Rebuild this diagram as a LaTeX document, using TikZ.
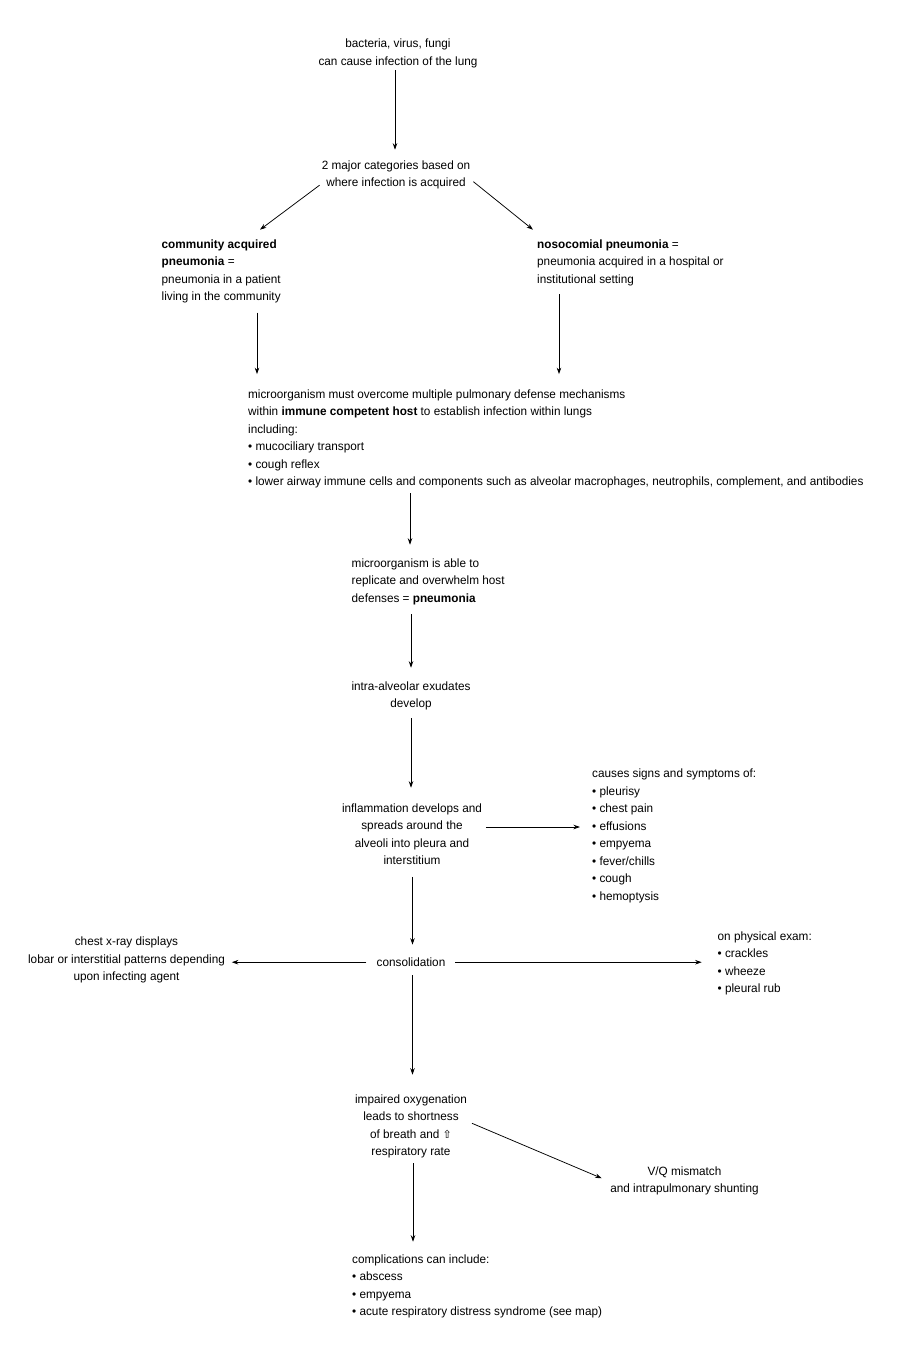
\documentclass[tikz,border=0pt]{standalone}
\usepackage{fontspec}
\setmainfont[FakeStretch=0.98]{Liberation Sans}
\newfontfamily\symf{DejaVu Sans}
\usetikzlibrary{arrows.meta}
\begin{document}
\begin{tikzpicture}[x=1pt,y=-1pt,
  every node/.style={inner sep=0pt, font=\fontsize{12}{17.5}\selectfont, text=black},
  lt/.style={align=left, anchor=base west},
  ct/.style={align=center, anchor=base},
  arr/.style={draw, line width=0.75pt, -{Stealth[length=6.5pt,width=4.5pt]}}]
\useasboundingbox[fill=white] (0,0) rectangle (904,1350);

% anchors are at the baseline of the last line of each node
\node[ct] (src) at (398,65) {bacteria, virus, fungi\\can cause infection of the lung};
\node[ct] (cat) at (396,186.5) {2 major categories based on\\where infection is acquired};
\node[lt] (cap) at (161.5,300.5) {\textbf{community acquired}\\\textbf{pneumonia} =\\pneumonia in a patient\\living in the community};
\node[lt] (noso) at (537,283) {\textbf{nosocomial pneumonia} =\\pneumonia acquired in a hospital or\\institutional setting};
\node[lt] (def) at (248,485.5) {microorganism must overcome multiple pulmonary defense mechanisms\\within \textbf{immune competent host} to establish infection within lungs\\including:\\• mucociliary transport\\• cough reflex\\• lower airway immune cells and components such as alveolar macrophages, neutrophils, complement, and antibodies};
\node[lt] (able) at (351.5,602) {microorganism is able to\\replicate and overwhelm host\\defenses = \textbf{pneumonia}};
\node[ct] (exud) at (411,707.5) {intra-alveolar exudates\\develop};
\node[ct] (infl) at (412,864.5) {inflammation develops and\\spreads around the\\alveoli into pleura and\\interstitium};
\node[lt] (sign) at (592,900) {causes signs and symptoms of:\\• pleurisy\\• chest pain\\• effusions\\• empyema\\• fever/chills\\• cough\\• hemoptysis};
\node[ct] (cons) at (411,966.5) {consolidation};
\node[ct] (xray) at (126.5,980.5) {chest x-ray displays\\lobar or interstitial patterns depending\\upon infecting agent};
\node[lt] (exam) at (717.5,992.5) {on physical exam:\\• crackles\\• wheeze\\• pleural rub};
\node[ct] (imp) at (411,1155.5) {impaired oxygenation\\leads to shortness\\of breath and {\symf\fontsize{11}{11}\selectfont ⇧}\\respiratory rate};
\node[ct] (vq) at (684.5,1192.5) {V/Q mismatch\\and intrapulmonary shunting};
\node[lt] (comp) at (352,1315.5) {complications can include:\\• abscess\\• empyema\\• acute respiratory distress syndrome (see map)};

\draw[arr, shorten <=2.5pt, shorten >=10.4pt] (src.south -| 395,0) -- (cat.north -| 395,0);
\draw[arr] ([shift={(-2,-4)}]cat.south west) -- ([shift={(98.5,-9.4)}]cap.north west);
\draw[arr] ([shift={(3,-7.5)}]cat.south east) -- ([shift={(-4,-9.4)}]noso.north west);
\draw[arr, shorten <=9.5pt, shorten >=15pt] (cap.south -| 257,0) -- (def.north -| 257,0);
\draw[arr, shorten <=8.5pt, shorten >=15pt] (noso.south -| 559,0) -- (def.north -| 559,0);
\draw[arr, shorten <=5pt, shorten >=13.4pt] (def.south -| 410,0) -- (able.north -| 410,0);
\draw[arr, shorten <=9.5pt, shorten >=13.4pt] (able.south -| 411,0) -- (exud.north -| 411,0);
\draw[arr, shorten <=8pt, shorten >=15.4pt] (exud.south -| 411,0) -- (infl.north -| 411,0);
\draw[arr, shorten <=3.7pt, shorten >=12pt] (infl.east |- 0,827) -- (sign.west |- 0,827);
\draw[arr, shorten <=12pt, shorten >=13pt] (infl.south -| 412.5,0) -- (cons.north -| 412.5,0);
\draw[arr, shorten <=10pt, shorten >=6.7pt] (cons.west) -- (xray.east |- cons.west);
\draw[arr, shorten <=9.6pt, shorten >=15.8pt] (cons.east) -- (exam.west |- cons.east);
\draw[arr, shorten <=8.5pt, shorten >=19.4pt] (cons.south -| 412.5,0) -- (imp.north -| 412.5,0);
\draw[arr] ([shift={(4.8,-2.9)}]imp.east) -- ([shift={(-8.4,-2.4)}]vq.west);
\draw[arr, shorten <=5pt, shorten >=12.4pt] (imp.south -| 413,0) -- (comp.north -| 413,0);
\end{tikzpicture}
\end{document}
